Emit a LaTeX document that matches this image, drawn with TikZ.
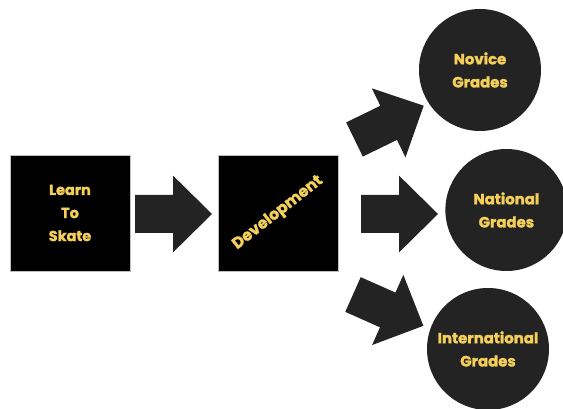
\documentclass[tikz,border=0pt]{standalone}
\usepackage{fontspec}
\newfontfamily\gradefont{Poppins}[BoldFeatures={FakeBold=1.6}]
\definecolor{gold}{HTML}{F4D05A}
\definecolor{darkfill}{HTML}{232323}
\tikzset{
blockarrow/.pic={
  \fill[darkfill] (0,-0.475) -- (0.95,-0.475) -- (0.95,-0.96) -- (1.925,0)
    -- (0.95,0.96) -- (0.95,0.475) -- (0,0.475) -- cycle;
  },
stage/.style={fill=black, draw=gray!50, line width=0.5pt,
  minimum width=3cm, minimum height=2.9cm, inner sep=0pt,
  text=gold, align=center, font=\gradefont\bfseries\fontsize{10.3}{16.4}\selectfont},
grade/.style={circle, fill=darkfill, minimum size=3.05cm, inner sep=0pt,
  text=gold, align=center, font=\gradefont\bfseries\fontsize{10.6}{16.4}\selectfont}
}
\begin{document}
\begin{tikzpicture}
\useasboundingbox[fill=white] (0,0) rectangle (14.075,10.225);
% stages
\node[stage] (learn) at (1.75,4.9) {Learn\\To\\Skate};
\node[stage] (dev) at (6.95,4.9) {\rotatebox{38}{\fontsize{11.2}{13}\selectfont Development}};
% grades
\node[grade] (novice) at (12.0,8.475) {Novice\\Grades};
\node[grade] (national) at (12.66,4.975) {National\\Grades};
\node[grade] (international) at (12.2,1.5) {International\\Grades};
% arrows
\pic at (3.375,4.875) {blockarrow};
\pic at (9.025,4.875) {blockarrow};
\pic[rotate=26] at (8.8625,6.7375) {blockarrow};
\pic[rotate=-24] at (8.825,2.8625) {blockarrow};
\end{tikzpicture}
\end{document}
